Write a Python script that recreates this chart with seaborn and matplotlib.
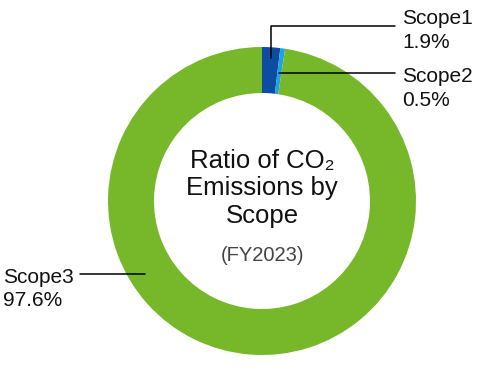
import numpy as np
import matplotlib.pyplot as plt
import seaborn as sns

# data
labels = ['Scope1', 'Scope2', 'Scope3']
shares = [1.9, 0.5, 97.6]
colors = ['#0c4da2', '#1ea2e2', '#76b82a']

sns.set_theme(style='white')
plt.rcParams['font.family'] = ['Liberation Sans', 'DejaVu Sans']

W, H = 498, 366
fig = plt.figure(figsize=(W / 100, H / 100), dpi=100)
ax = fig.add_axes([0, 0, 1, 1])

cx, cy, r_out, ring = 262, H - 201, 154, 46
wedges, _ = ax.pie(shares, colors=colors, startangle=90, counterclock=False,
                   radius=r_out, center=(cx, cy),
                   wedgeprops=dict(width=ring, linewidth=0))
ax.set_xlim(0, W)
ax.set_ylim(0, H)
ax.set_aspect('equal')
ax.axis('off')

def anchor(w, rad):
    t = np.deg2rad((w.theta1 + w.theta2) / 2)
    return cx + rad * np.cos(t), cy + rad * np.sin(t)

# Scope1 leader: up then right
x1, y1 = anchor(wedges[0], 143)
ax.plot([x1, x1, 395], [y1, H - 26, H - 26], color='black', lw=1.1)
# Scope2 leader: horizontal
x2, y2 = anchor(wedges[1], 129)
ax.plot([x2, 395], [y2, y2], color='black', lw=1.1)
# Scope3 leader: point inside the ring on the left side
y3 = H - 274
x3 = cx - np.sqrt(138 ** 2 - (cy - y3) ** 2)
ax.plot([x3, 80], [y3, y3], color='black', lw=1.1)

fs = 15
kw = dict(fontsize=fs, va='top', ha='left', color='#111111', linespacing=1.3)
ax.text(402, H - 9, f'{labels[0]}\n{shares[0]}%', **kw)
ax.text(402, H - 67, f'{labels[1]}\n{shares[1]}%', **kw)
ax.text(3, H - 268, f'{labels[2]}\n{shares[2]}%', **kw)

ax.text(cx, H - 168, 'Ratio of CO\u2082', fontsize=18.5, ha='center', va='baseline', color='#111111')
ax.text(cx, H - 195, 'Emissions by', fontsize=18.5, ha='center', va='baseline', color='#111111')
ax.text(cx, H - 223, 'Scope', fontsize=18.5, ha='center', va='baseline', color='#111111')
ax.text(cx, H - 261, '(FY2023)', fontsize=14.5, ha='center', va='baseline', color='#444444')

fig.savefig('out.png', dpi=100)
